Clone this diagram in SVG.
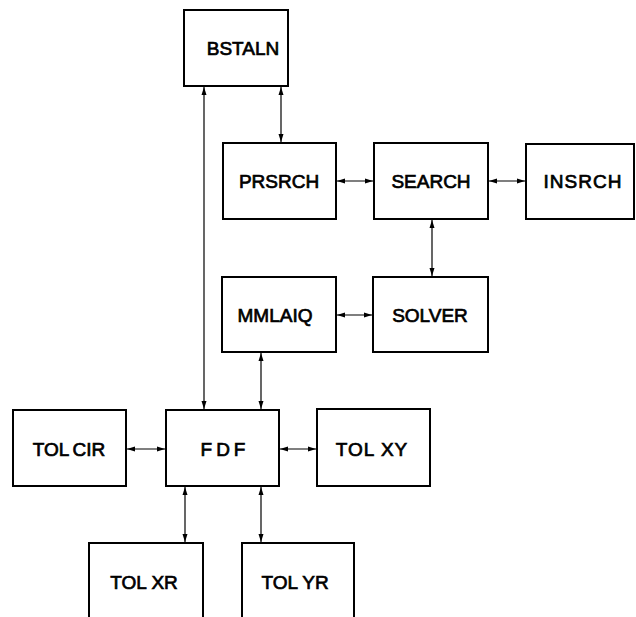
<svg xmlns="http://www.w3.org/2000/svg" width="636" height="617" viewBox="0 0 636 617">
<style>
.box{fill:#fff;stroke:#000;stroke-width:2}
.lbl{font-family:"Liberation Sans",Arial,sans-serif;font-size:19px;text-anchor:middle;fill:#000;stroke:#000;stroke-width:0.7}
.con{stroke:#000;stroke-width:1.2;fill:none;marker-start:url(#ah);marker-end:url(#ah)}
</style>
<defs>
<marker id="ah" viewBox="0 0 8 6" refX="8" refY="3" markerWidth="8" markerHeight="6" markerUnits="userSpaceOnUse" orient="auto-start-reverse">
<path d="M0,0.5 L8,3 L0,5.5 Z" fill="#000"/>
</marker>
</defs>
<rect width="636" height="617" fill="#fff"/>
<g id="connectors">
<line class="con" x1="204" y1="87" x2="204" y2="409"/>
<line class="con" x1="281" y1="87" x2="281" y2="142"/>
<line class="con" x1="337" y1="181" x2="373" y2="181"/>
<line class="con" x1="489" y1="181" x2="525" y2="181"/>
<line class="con" x1="432" y1="220" x2="432" y2="276"/>
<line class="con" x1="337" y1="315" x2="372" y2="315"/>
<line class="con" x1="261" y1="353" x2="261" y2="409"/>
<line class="con" x1="127" y1="449" x2="165" y2="449"/>
<line class="con" x1="280" y1="449" x2="316" y2="449"/>
<line class="con" x1="185" y1="487" x2="185" y2="542"/>
<line class="con" x1="261" y1="487" x2="261" y2="542"/>
</g>
<g id="BSTALN"><rect class="box" x="184" y="10" width="104" height="76"/><text class="lbl" x="243" y="55">BSTALN</text></g>
<g id="PRSRCH"><rect class="box" x="223" y="143" width="113" height="76"/><text class="lbl" x="279" y="188">PRSRCH</text></g>
<g id="SEARCH"><rect class="box" x="374" y="143" width="114" height="76"/><text class="lbl" x="431" y="188">SEARCH</text></g>
<g id="INSRCH"><rect class="box" x="526" y="144" width="108" height="75"/><text class="lbl" x="583" y="188" letter-spacing="1">INSRCH</text></g>
<g id="MMLAIQ"><rect class="box" x="222" y="277" width="114" height="75"/><text class="lbl" x="275" y="322">MMLAIQ</text></g>
<g id="SOLVER"><rect class="box" x="373" y="277" width="115" height="75"/><text class="lbl" x="430" y="322">SOLVER</text></g>
<g id="TOLCIR"><rect class="box" x="13" y="410" width="113" height="76"/><text class="lbl" x="69" y="456">TOL<tspan dx="3">CIR</tspan></text></g>
<g id="FDF"><rect class="box" x="166" y="410" width="113" height="76"/><text class="lbl" x="225" y="456" letter-spacing="4">FDF</text></g>
<g id="TOLXY"><rect class="box" x="317" y="409" width="113" height="77"/><text class="lbl" x="372" y="456" letter-spacing="1">TOL XY</text></g>
<g id="TOLXR"><rect class="box" x="89" y="543" width="114" height="90"/><text class="lbl" x="144" y="589">TOL XR</text></g>
<g id="TOLYR"><rect class="box" x="242" y="543" width="112" height="90"/><text class="lbl" x="295" y="589">TOL YR</text></g>
</svg>
